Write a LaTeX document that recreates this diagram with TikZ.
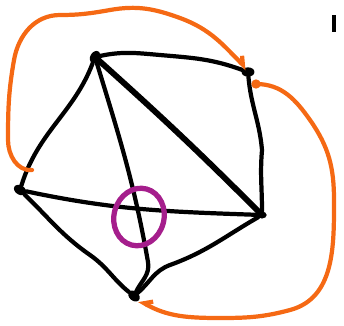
\documentclass[tikz,border=0pt]{standalone}
\usetikzlibrary{arrows.meta,shapes.geometric}
\definecolor{penorange}{RGB}{245,105,20}
\definecolor{penpurple}{RGB}{165,30,140}
\tikzset{
  vert/.style={ellipse,fill=black,inner sep=0pt,minimum width=11pt,minimum height=8pt},
  edge/.style={line width=3.6pt,line cap=round,black},
  fatedge/.style={edge,line width=5pt},
  penedge/.style={line width=3.6pt,line cap=round,penorange},
}
\begin{document}
\begin{tikzpicture}[x=0.03cm,y=-0.03cm]
    \useasboundingbox (0,0) rectangle (344,325);

    % vertices
    \node[vert,rotate=60] (a) at (95,57) {};
    \node[vert] (b) at (248,72) {};
    \node[vert,rotate=-30] (c) at (20,190) {};
    \node[vert,minimum width=8pt,minimum height=6pt] (d) at (262,215) {};
    \node[vert,rotate=-40] (e) at (134,296) {};

    % black edges
    \draw[edge] (a) to[out=0,in=175] (160,55) to[out=-5,in=160] (b);
    \draw[edge] (a) to[out=-115,in=75] (c);
    \draw[fatedge] (a) to[out=-45,in=135] (d);
    \draw[edge] (a) to[out=-76,in=100] (148,262) to[out=-80,in=75] (e);
    \draw[edge] (b) to[out=-85,in=95] (262,150) to[out=-95,in=90] (d);
    \draw[edge] (c) to[out=-10,in=178] (d);
    \draw[edge] (c) to[out=-40,in=145] (90,255) to[out=-35,in=150] (e);
    \draw[edge] (d) to[out=210,in=20] (170,265) to[out=200,in=50] (e);

    % orange edges
    \coordinate (cend) at (32,170);
    \coordinate (bdot) at (256,84);
    \draw[penedge,-{Straight Barb[left,length=6pt,width=10pt]}] (cend) to[out=185,in=-90] (8,140) to[out=90,in=-100] (14,60)
      to[out=80,in=180] (60,15) to[out=0,in=190] (110,10) to[out=10,in=160] (180,18)
      to[out=-20,in=135] (247,69);
    \fill[penorange] (bdot) circle (4pt);
    \draw[penedge,-{Straight Barb[right,length=6pt,width=10pt]}] (bdot) to[out=0,in=125] (310,120) to[out=-55,in=90] (334,200)
      to[out=-90,in=15] (290,310) to[out=195,in=0] (220,318) to[out=180,in=-30] (e.east);

    % crossing
    \draw[penpurple,line width=4.5pt,rotate around={-15:(139,217)}] (139,217) ellipse (25 and 29);

    % stray mark
    \draw[line width=3.5pt,black] (334,15) -- (334,32);
\end{tikzpicture}
\end{document}
